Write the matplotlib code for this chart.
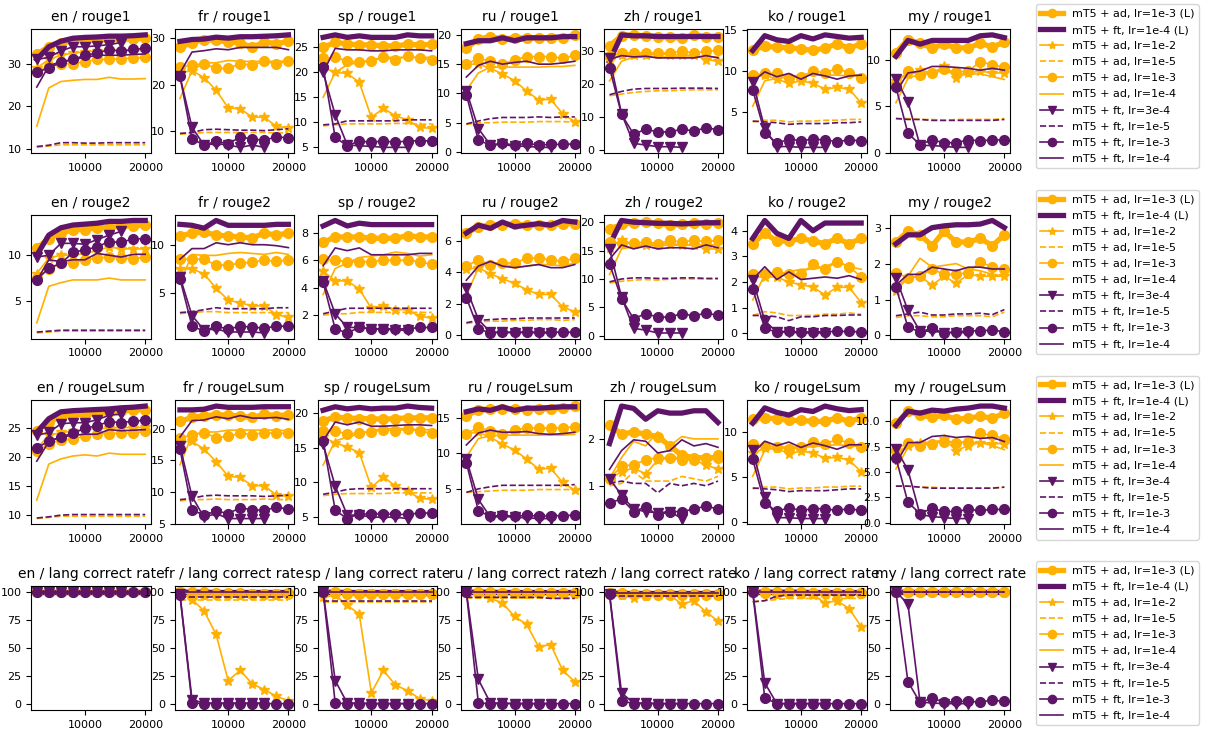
import numpy as np
import matplotlib.pyplot as plt

steps = [2000, 4000, 6000, 8000, 10000, 12000, 14000, 16000, 18000, 20000]
langs = ["en", "fr", "sp", "ru", "zh", "ko", "my"]
metrics = ["rouge1", "rouge2", "rougeLsum", "lang correct rate"]
labels = ["mT5 + ad, lr=1e-3 (L)", "mT5 + ft, lr=1e-4 (L)", "mT5 + ad, lr=1e-2",
          "mT5 + ad, lr=1e-5", "mT5 + ad, lr=1e-3", "mT5 + ad, lr=1e-4",
          "mT5 + ft, lr=3e-4", "mT5 + ft, lr=1e-5", "mT5 + ft, lr=1e-3",
          "mT5 + ft, lr=1e-4"]

# each panel: one list per label above (same order)
en_rouge1 = [
    [32.3, 34.0, 35.0, 35.3, 35.5, 35.5, 35.7, 35.8, 35.8, 36.0],
    [31.0, 34.0, 35.3, 36.0, 36.2, 36.3, 36.5, 36.5, 36.6, 36.8],
    [29.0, 31.0, 32.0, 32.5, 32.8, 33.0, 33.2, 33.0, 33.0, 33.2],
    [10.3, 10.6, 10.9, 10.9, 10.9, 10.9, 10.9, 10.9, 10.9, 10.9],
    [28.0, 29.5, 30.0, 30.0, 30.5, 31.0, 31.0, 31.2, 31.3, 31.5],
    [15.3, 24.3, 25.8, 26.1, 26.3, 26.3, 26.8, 26.4, 26.4, 26.5],
    [31.0, 31.5, 33.0, 34.0, 34.0, 34.2, 34.5, 35.0],
    [10.5, 10.8, 11.4, 11.4, 11.3, 11.3, 11.4, 11.4, 11.4, 11.4],
    [28.0, 29.0, 30.3, 31.0, 32.0, 32.5, 33.3, 33.0, 33.4, 33.6],
    [24.5, 29.5, 30.5, 31.0, 31.5, 32.0, 32.0, 32.0, 32.2, 32.3],
]
fr_rouge1 = [
    [28.0, 29.0, 29.7, 29.5, 29.2, 29.0, 28.0, 29.2, 28.8, 29.3],
    [29.3, 29.7, 29.8, 30.2, 30.0, 30.3, 30.3, 30.4, 30.5, 30.7],
    [22.5, 23.0, 21.5, 18.8, 15.0, 14.8, 13.0, 13.0, 11.0, 10.7],
    [9.3, 9.5, 9.7, 9.7, 9.7, 9.7, 9.7, 9.7, 9.6, 9.6],
    [23.8, 24.2, 24.5, 23.5, 23.5, 24.5, 24.2, 25.0, 24.5, 25.0],
    [17.0, 23.0, 24.7, 24.7, 25.2, 25.0, 25.0, 25.0, 25.0, 25.1],
    [21.8, 10.8, 7.0, 7.3, 7.0, 6.5, 7.0, 6.5],
    [9.5, 9.7, 10.3, 10.4, 10.3, 10.2, 10.2, 10.1, 10.3, 10.5],
    [21.8, 8.3, 7.0, 7.8, 7.3, 8.7, 8.3, 8.0, 8.8, 8.5],
    [22.5, 27.0, 27.3, 27.7, 27.5, 28.0, 28.0, 28.0, 28.0, 27.5],
]
sp_rouge1 = [
    [25.0, 26.0, 25.7, 25.5, 25.5, 25.3, 25.3, 25.6, 25.5, 25.6],
    [27.0, 27.5, 27.0, 27.3, 27.0, 27.0, 27.0, 27.5, 27.3, 27.3],
    [21.0, 20.0, 19.8, 18.0, 11.0, 12.8, 11.3, 10.5, 9.0, 8.8],
    [9.3, 9.5, 9.7, 9.7, 9.7, 9.7, 9.8, 9.8, 9.6, 9.7],
    [22.8, 23.0, 22.3, 22.0, 22.3, 23.0, 22.5, 23.3, 22.8, 22.5],
    [15.0, 20.0, 21.5, 22.0, 22.5, 23.0, 23.0, 23.0, 23.0, 23.0],
    [20.0, 11.5, 5.5, 5.3, 5.2, 5.0, 5.0, 5.0],
    [9.5, 9.7, 10.3, 10.3, 10.3, 10.3, 10.3, 10.5, 10.5, 10.5],
    [21.0, 7.0, 5.3, 6.3, 6.0, 6.3, 6.0, 6.3, 6.3, 6.3],
    [20.0, 24.8, 24.5, 24.5, 24.3, 24.3, 24.5, 24.5, 24.5, 24.3],
]
ru_rouge1 = [
    [17.7, 19.3, 19.7, 19.3, 19.5, 19.5, 19.5, 19.5, 19.5, 20.0],
    [18.5, 19.0, 19.0, 19.5, 19.0, 19.5, 19.5, 19.5, 19.7, 19.7],
    [15.0, 15.0, 14.3, 13.3, 12.2, 10.4, 8.9, 9.0, 6.5, 5.2],
    [4.7, 5.0, 5.0, 5.1, 5.1, 5.1, 5.2, 5.2, 5.2, 5.1],
    [15.0, 16.0, 15.5, 15.0, 15.7, 16.3, 16.3, 16.3, 16.0, 16.5],
    [10.5, 13.5, 14.5, 14.5, 14.5, 14.5, 14.5, 14.6, 14.6, 14.8],
    [10.5, 4.0, 1.2, 1.3, 1.0, 1.0, 0.8, 0.8],
    [4.8, 5.3, 5.7, 5.9, 5.9, 5.9, 6.0, 5.9, 6.0, 6.0],
    [9.8, 2.0, 1.2, 1.5, 1.2, 1.5, 1.2, 1.3, 1.3, 1.4],
    [12.8, 14.8, 15.5, 15.0, 15.3, 15.5, 15.0, 15.0, 15.2, 15.5],
]
zh_rouge1 = [
    [31.7, 34.7, 35.0, 34.7, 34.5, 34.3, 34.0, 35.0, 34.5, 34.5],
    [27.0, 35.0, 34.7, 34.7, 34.5, 34.5, 34.5, 34.5, 34.5, 34.5],
    [27.5, 29.0, 29.0, 28.8, 29.2, 29.0, 28.8, 28.8, 27.5, 27.0],
    [16.5, 17.0, 17.5, 17.8, 18.0, 18.0, 18.2, 18.3, 18.3, 18.3],
    [28.5, 29.5, 29.5, 29.5, 29.5, 29.5, 30.0, 29.5, 30.0, 30.3],
    [21.0, 27.0, 28.2, 28.2, 28.2, 28.3, 28.3, 28.2, 28.3, 28.3],
    [27.9, 11.0, 2.0, 1.5, 1.0, 1.0, 0.8],
    [16.8, 17.8, 18.5, 18.7, 18.7, 18.7, 18.8, 18.8, 18.8, 18.7],
    [25.0, 10.8, 4.8, 6.3, 5.5, 5.5, 6.3, 5.8, 6.7, 6.2],
    [27.5, 28.7, 28.3, 28.5, 28.0, 28.0, 28.0, 28.0, 28.7, 28.0],
]
ko_rouge1 = [
    [12.6, 13.0, 12.9, 12.8, 12.7, 12.5, 12.8, 13.3, 12.8, 13.3],
    [12.5, 14.3, 13.8, 13.6, 14.3, 13.9, 14.4, 14.2, 14.0, 14.1],
    [9.3, 9.5, 9.0, 8.5, 8.8, 8.5, 7.8, 8.0, 7.8, 6.1],
    [3.8, 4.0, 4.0, 3.8, 3.9, 3.9, 4.0, 4.0, 4.1, 4.1],
    [9.5, 9.7, 9.7, 9.2, 9.3, 10.0, 9.8, 10.3, 9.8, 9.2],
    [5.7, 8.8, 9.1, 9.3, 9.5, 9.5, 9.5, 9.5, 9.4, 9.5],
    [8.7, 3.0, 0.8, 0.8, 0.7, 0.7, 0.7],
    [3.9, 3.8, 3.7, 3.5, 3.6, 3.6, 3.6, 3.7, 3.7, 3.8],
    [7.7, 2.5, 1.2, 1.7, 1.5, 1.7, 1.6, 1.4, 1.6, 1.5],
    [8.7, 9.9, 9.3, 9.7, 9.0, 9.7, 9.4, 9.0, 9.4, 9.5],
]
my_rouge1 = [
    [10.8, 12.2, 11.8, 11.3, 11.7, 11.3, 11.3, 11.8, 11.4, 11.9],
    [10.4, 12.1, 11.7, 12.1, 12.1, 12.1, 12.1, 12.6, 12.7, 12.4],
    [7.7, 8.5, 8.9, 8.6, 9.3, 8.1, 8.6, 8.8, 8.6, 8.6],
    [3.7, 3.7, 3.6, 3.6, 3.5, 3.6, 3.6, 3.6, 3.6, 3.7],
    [7.5, 8.8, 8.4, 8.6, 9.0, 8.7, 8.8, 9.8, 9.5, 9.2],
    [5.4, 8.0, 8.5, 8.7, 8.8, 8.5, 8.5, 8.5, 8.2, 7.9],
    [8.0, 5.5, 0.8, 0.8, 0.7, 0.6, 0.6],
    [3.7, 3.6, 3.6, 3.5, 3.5, 3.5, 3.5, 3.5, 3.5, 3.6],
    [7.1, 2.1, 0.9, 1.4, 1.1, 1.1, 1.4, 1.3, 1.4, 1.4],
    [6.5, 8.6, 8.8, 9.3, 9.3, 9.2, 9.1, 8.9, 9.1, 8.9],
]

en_rouge2 = [
    [10.8, 11.8, 12.4, 12.8, 12.8, 13.0, 13.0, 13.2, 13.2, 13.3],
    [10.0, 12.2, 13.0, 13.3, 13.4, 13.5, 13.7, 13.7, 13.8, 13.8],
    [8.0, 9.7, 10.0, 10.0, 10.2, 10.5, 10.9, 10.7, 10.7, 10.7],
    [1.5, 1.6, 1.7, 1.7, 1.7, 1.7, 1.7, 1.7, 1.7, 1.7],
    [7.5, 8.5, 9.1, 9.2, 9.5, 9.7, 9.8, 9.7, 9.6, 9.8],
    [2.6, 6.6, 7.0, 7.3, 7.3, 7.3, 7.5, 7.3, 7.3, 7.3],
    [9.8, 10.0, 11.3, 11.3, 11.2, 11.7, 12.2, 12.6],
    [1.6, 1.7, 1.8, 1.8, 1.8, 1.8, 1.8, 1.8, 1.8, 1.8],
    [7.3, 8.6, 9.1, 10.3, 10.6, 10.9, 11.5, 11.4, 11.8, 11.8],
    [7.2, 9.5, 9.3, 9.5, 9.5, 10.2, 10.0, 9.8, 10.1, 10.1],
]
fr_rouge2 = [
    [10.9, 11.2, 11.3, 11.0, 10.9, 10.8, 10.7, 11.2, 11.0, 11.2],
    [12.1, 12.0, 11.7, 12.5, 12.0, 12.0, 12.0, 12.0, 12.1, 12.1],
    [7.5, 7.5, 7.0, 5.5, 4.3, 4.0, 3.7, 3.7, 2.8, 2.5],
    [2.9, 3.0, 3.1, 3.1, 3.0, 3.0, 3.0, 3.0, 3.0, 3.0],
    [8.5, 8.5, 8.5, 7.9, 7.9, 8.1, 8.2, 8.4, 8.3, 8.4],
    [6.0, 9.0, 8.9, 8.9, 9.1, 9.2, 9.1, 9.0, 9.2, 9.0],
    [6.7, 2.7, 1.2, 1.3, 1.0, 1.0, 1.0, 0.9],
    [3.0, 3.1, 3.3, 3.5, 3.4, 3.4, 3.4, 3.4, 3.5, 3.5],
    [6.5, 1.6, 1.1, 1.6, 1.3, 1.6, 1.5, 1.4, 1.6, 1.6],
    [8.5, 9.6, 9.6, 10.2, 10.0, 10.2, 10.0, 10.0, 9.9, 9.7],
]
sp_rouge2 = [
    [7.3, 7.7, 7.7, 7.7, 7.6, 7.6, 7.6, 7.8, 7.7, 7.7],
    [8.5, 8.9, 8.5, 8.7, 8.6, 8.6, 8.6, 8.6, 8.6, 8.6],
    [5.2, 4.5, 4.5, 3.9, 2.5, 2.7, 2.4, 2.4, 1.9, 1.8],
    [2.0, 2.1, 2.1, 2.2, 2.2, 2.2, 2.2, 2.2, 2.2, 2.2],
    [6.1, 6.0, 5.9, 5.9, 5.9, 6.0, 6.0, 6.0, 5.9, 5.7],
    [3.5, 5.4, 5.8, 6.2, 6.3, 6.4, 6.6, 6.5, 6.3, 6.4],
    [4.5, 2.1, 1.1, 1.1, 1.0, 1.0, 0.9, 0.9],
    [2.1, 2.3, 2.5, 2.5, 2.5, 2.5, 2.5, 2.5, 2.5, 2.5],
    [4.4, 1.0, 0.7, 1.1, 1.0, 1.0, 1.0, 1.0, 1.1, 1.1],
    [5.6, 6.9, 6.7, 6.9, 6.4, 6.4, 6.4, 6.4, 6.5, 6.5],
]
ru_rouge2 = [
    [6.5, 6.9, 7.0, 7.0, 7.1, 7.0, 7.0, 7.0, 7.1, 7.1],
    [6.5, 7.0, 6.8, 7.2, 6.9, 7.0, 7.1, 7.0, 7.3, 7.2],
    [4.2, 4.3, 3.9, 3.6, 3.3, 2.9, 2.6, 2.6, 1.8, 1.5],
    [0.75, 0.85, 0.9, 0.9, 0.95, 0.95, 1.0, 1.0, 0.95, 1.0],
    [4.4, 4.8, 4.5, 4.6, 4.6, 4.9, 4.9, 4.8, 4.7, 4.9],
    [2.5, 4.3, 4.6, 4.6, 4.3, 4.4, 4.5, 4.5, 4.4, 4.6],
    [3.0, 1.0, 0.2, 0.2, 0.15, 0.2, 0.15, 0.15],
    [0.8, 0.95, 1.0, 1.05, 1.05, 1.1, 1.1, 1.1, 1.1, 1.1],
    [2.4, 0.4, 0.15, 0.2, 0.2, 0.2, 0.2, 0.2, 0.2, 0.2],
    [3.5, 4.4, 4.7, 4.4, 4.3, 4.4, 4.5, 4.3, 4.3, 4.5],
]
zh_rouge2 = [
    [18.8, 19.6, 19.9, 20.0, 19.8, 19.5, 19.6, 19.8, 19.7, 19.9],
    [16.0, 20.3, 20.0, 19.9, 19.8, 19.8, 19.7, 19.8, 19.9, 19.9],
    [15.5, 16.9, 16.1, 15.9, 16.2, 16.2, 16.0, 16.0, 15.3, 15.3],
    [9.3, 9.6, 9.8, 9.9, 9.8, 10.0, 10.0, 10.0, 10.0, 10.0],
    [16.5, 16.3, 16.3, 16.5, 16.2, 16.8, 16.5, 16.8, 16.6, 16.8],
    [10.8, 15.3, 15.7, 15.8, 16.0, 15.9, 16.0, 16.0, 16.0, 16.0],
    [15.3, 6.8, 1.3, 1.0, 0.5, 0.5, 0.5],
    [9.5, 10.0, 10.2, 10.2, 10.1, 10.1, 10.2, 10.2, 10.1, 10.1],
    [12.7, 6.5, 3.0, 3.9, 3.3, 3.3, 3.9, 3.5, 4.0, 3.6],
    [13.5, 16.0, 15.3, 15.8, 15.3, 15.5, 15.5, 15.3, 16.0, 15.5],
]
ko_rouge2 = [
    [3.5, 3.9, 3.6, 3.6, 3.7, 3.6, 3.5, 3.7, 3.5, 3.7],
    [3.7, 4.4, 3.9, 3.7, 4.4, 4.0, 4.3, 4.3, 4.3, 4.3],
    [2.2, 2.2, 2.2, 2.0, 1.9, 1.8, 1.5, 1.8, 1.8, 1.2],
    [0.7, 0.85, 0.8, 0.7, 0.7, 0.7, 0.75, 0.75, 0.8, 0.75],
    [2.3, 2.3, 2.4, 2.3, 2.3, 2.7, 2.5, 2.8, 2.6, 2.2],
    [1.3, 2.3, 2.3, 2.4, 2.5, 2.5, 2.6, 2.8, 2.6, 2.5],
    [2.1, 0.5, 0.05, 0.05, 0.02, 0.02, 0.02],
    [0.7, 0.7, 0.65, 0.5, 0.65, 0.65, 0.7, 0.7, 0.72, 0.72],
    [1.75, 0.2, 0.05, 0.1, 0.05, 0.07, 0.07, 0.08, 0.08, 0.06],
    [2.1, 2.6, 2.1, 2.4, 2.1, 2.15, 2.2, 2.15, 2.25, 2.1],
]
my_rouge2 = [
    [2.6, 2.9, 2.8, 2.5, 2.9, 2.6, 2.6, 2.7, 2.5, 2.8],
    [2.55, 2.8, 2.8, 3.0, 3.05, 3.08, 3.08, 3.1, 3.2, 3.0],
    [1.25, 1.6, 1.65, 1.4, 1.65, 1.45, 1.7, 1.65, 1.65, 1.65],
    [0.5, 0.55, 0.55, 0.52, 0.52, 0.55, 0.55, 0.55, 0.52, 0.65],
    [1.75, 1.6, 1.65, 1.85, 1.7, 1.7, 1.75, 2.05, 1.9, 1.85],
    [1.3, 1.65, 2.15, 1.9, 1.95, 2.0, 1.85, 1.8, 1.7, 1.65],
    [1.6, 0.7, 0.12, 0.12, 0.08, 0.08, 0.08],
    [0.55, 0.6, 0.65, 0.57, 0.57, 0.6, 0.6, 0.62, 0.58, 0.72],
    [1.35, 0.23, 0.1, 0.2, 0.07, 0.1, 0.13, 0.13, 0.15, 0.1],
    [1.4, 1.7, 1.7, 1.9, 1.85, 1.8, 1.9, 1.9, 1.85, 1.85],
]

en_rougeL = [
    [24.6, 26.2, 27.0, 27.3, 27.4, 27.6, 27.8, 28.0, 28.2, 28.3],
    [24.3, 26.7, 27.9, 28.1, 28.2, 28.3, 28.4, 28.6, 28.7, 28.9],
    [21.5, 23.8, 24.3, 24.5, 24.8, 25.0, 25.0, 25.2, 25.1, 25.2],
    [9.3, 9.5, 9.7, 9.7, 9.7, 9.7, 9.7, 9.7, 9.7, 9.7],
    [21.0, 22.3, 23.0, 23.1, 23.7, 24.1, 24.1, 24.2, 24.2, 24.5],
    [12.5, 18.8, 19.7, 20.2, 20.4, 20.2, 20.7, 20.5, 20.5, 20.5],
    [23.8, 24.3, 25.8, 26.0, 26.0, 26.5, 27.3, 27.5],
    [9.4, 9.6, 9.9, 10.0, 10.0, 10.0, 10.0, 10.0, 10.0, 10.0],
    [21.6, 22.8, 23.5, 24.2, 25.0, 25.5, 26.2, 26.0, 26.3, 26.4],
    [19.3, 22.7, 23.5, 23.8, 24.0, 24.0, 24.8, 24.6, 24.7, 24.8],
]
fr_rougeL = [
    [21.2, 21.8, 22.1, 22.2, 22.2, 22.0, 21.8, 22.3, 22.1, 22.2],
    [23.0, 23.0, 23.1, 23.6, 23.4, 23.4, 23.4, 23.5, 23.5, 23.5],
    [18.0, 18.0, 16.8, 14.8, 12.5, 12.3, 11.0, 11.0, 9.5, 9.3],
    [8.6, 8.8, 8.8, 8.9, 8.8, 8.8, 8.8, 8.9, 8.8, 8.8],
    [18.5, 19.1, 19.4, 18.6, 18.8, 19.3, 19.1, 19.4, 19.3, 19.3],
    [14.3, 19.0, 19.5, 19.5, 19.8, 19.8, 19.8, 19.8, 19.8, 19.7],
    [17.3, 9.3, 6.0, 6.6, 5.8, 5.8, 5.8, 5.8],
    [8.8, 9.0, 9.4, 9.5, 9.4, 9.4, 9.4, 9.3, 9.4, 9.5],
    [16.8, 7.2, 6.3, 7.0, 6.6, 7.5, 7.2, 7.1, 7.6, 7.3],
    [18.7, 21.3, 21.4, 21.9, 21.6, 22.1, 21.7, 21.7, 21.8, 21.5],
]
sp_rougeL = [
    [18.9, 19.4, 19.3, 19.2, 19.2, 19.1, 19.2, 19.3, 19.3, 19.3],
    [20.4, 20.9, 20.6, 20.8, 20.6, 20.7, 20.7, 21.0, 20.8, 20.7],
    [16.5, 15.7, 15.1, 14.3, 9.3, 10.8, 9.5, 8.8, 7.7, 7.6],
    [8.1, 8.3, 8.4, 8.4, 8.4, 8.4, 8.5, 8.5, 8.5, 8.5],
    [17.4, 17.4, 17.0, 17.1, 17.3, 17.6, 17.4, 17.7, 17.4, 17.1],
    [12.5, 16.0, 16.5, 17.0, 17.5, 17.7, 17.8, 17.7, 17.6, 17.6],
    [15.5, 9.5, 5.3, 5.3, 5.0, 5.0, 5.0, 4.8],
    [8.3, 8.6, 9.0, 9.1, 9.1, 9.1, 9.1, 9.1, 9.1, 9.1],
    [16.0, 6.0, 4.8, 5.5, 5.4, 5.5, 5.4, 5.4, 5.6, 5.6],
    [16.0, 18.7, 18.3, 18.7, 18.1, 18.1, 18.2, 18.3, 18.3, 18.2],
]
ru_rougeL = [
    [15.3, 16.2, 16.3, 16.3, 16.3, 16.2, 16.3, 16.3, 16.4, 16.7],
    [15.9, 16.3, 16.1, 16.6, 16.1, 16.4, 16.4, 16.5, 16.6, 16.6],
    [12.8, 13.0, 12.3, 11.3, 10.5, 9.2, 7.8, 7.9, 5.9, 4.8],
    [4.5, 4.6, 4.7, 4.8, 4.8, 4.8, 4.9, 4.9, 4.9, 4.9],
    [12.8, 13.7, 13.2, 12.8, 13.3, 13.6, 13.6, 13.6, 13.6, 13.8],
    [9.5, 12.1, 12.5, 12.6, 12.6, 12.6, 12.6, 12.6, 12.6, 12.7],
    [9.2, 3.5, 1.0, 1.1, 1.0, 0.9, 0.8, 0.8],
    [4.5, 5.0, 5.3, 5.5, 5.5, 5.5, 5.5, 5.5, 5.5, 5.6],
    [8.7, 1.9, 1.1, 1.3, 1.1, 1.3, 1.1, 1.2, 1.2, 1.3],
    [11.2, 12.9, 13.3, 13.0, 13.0, 13.1, 12.8, 12.7, 12.8, 13.0],
]
zh_rougeL = [
    [2.3, 2.1, 2.15, 2.1, 2.05, 1.85, 1.65, 1.6, 1.6, 1.6],
    [1.9, 2.7, 2.65, 2.42, 2.6, 2.55, 2.55, 2.6, 2.6, 2.35],
    [1.15, 1.3, 1.38, 1.25, 1.55, 1.6, 1.6, 1.55, 1.45, 1.35],
    [1.0, 1.05, 1.3, 1.1, 1.1, 1.1, 1.2, 1.15, 1.1, 1.2],
    [1.15, 1.42, 1.45, 1.55, 1.6, 1.6, 1.55, 1.55, 1.6, 1.65],
    [1.15, 1.6, 1.95, 1.85, 2.15, 1.85, 2.05, 2.0, 2.0, 2.0],
    [1.15, 0.8, 0.5, 0.45, 0.42, 0.45, 0.3],
    [1.05, 1.1, 1.05, 1.05, 0.85, 1.05, 1.0, 1.05, 1.0, 1.1],
    [0.63, 0.72, 0.45, 0.55, 0.37, 0.45, 0.45, 0.5, 0.57, 0.5],
    [1.35, 1.75, 1.98, 1.95, 1.7, 1.75, 1.98, 1.85, 1.9, 1.82],
]
ko_rougeL = [
    [11.5, 11.6, 11.5, 11.3, 11.3, 11.2, 11.2, 11.6, 11.2, 11.6],
    [11.0, 12.7, 12.2, 11.9, 12.5, 12.3, 12.9, 12.6, 12.4, 12.5],
    [7.7, 8.2, 8.2, 7.6, 7.9, 7.7, 7.1, 7.2, 6.9, 5.6],
    [3.7, 3.9, 3.9, 3.7, 3.8, 3.8, 3.9, 3.9, 4.0, 4.0],
    [8.7, 8.5, 8.4, 8.1, 8.3, 8.9, 8.7, 9.2, 8.8, 8.3],
    [5.1, 8.0, 8.3, 8.4, 8.3, 8.4, 8.5, 8.6, 8.5, 8.4],
    [8.0, 2.8, 0.5, 0.5, 0.4, 0.4, 0.4],
    [3.8, 3.7, 3.6, 3.4, 3.5, 3.5, 3.5, 3.6, 3.7, 3.7],
    [7.0, 2.1, 1.2, 1.6, 1.3, 1.5, 1.5, 1.3, 1.5, 1.3],
    [7.6, 9.0, 8.5, 8.9, 8.3, 8.8, 8.5, 8.1, 8.6, 8.6],
]
my_rougeL = [
    [9.8, 11.0, 10.6, 10.4, 10.6, 10.2, 10.3, 10.5, 10.3, 10.8],
    [9.6, 11.0, 10.8, 11.1, 11.0, 11.2, 11.3, 11.5, 11.5, 11.3],
    [6.8, 7.6, 7.9, 7.7, 8.3, 7.1, 7.6, 7.9, 7.8, 7.8],
    [3.6, 3.6, 3.5, 3.5, 3.4, 3.4, 3.4, 3.4, 3.4, 3.5],
    [7.2, 7.9, 7.6, 7.8, 8.0, 7.9, 8.0, 8.8, 8.6, 8.3],
    [5.3, 7.4, 7.8, 8.0, 8.1, 7.9, 7.9, 7.9, 7.6, 7.2],
    [7.3, 5.2, 0.8, 0.6, 0.5, 0.4, 0.4],
    [3.6, 3.6, 3.5, 3.4, 3.4, 3.4, 3.4, 3.4, 3.4, 3.5],
    [6.4, 2.0, 0.9, 1.4, 1.1, 1.1, 1.3, 1.2, 1.3, 1.3],
    [5.8, 7.9, 7.9, 8.5, 8.6, 8.4, 8.5, 8.3, 8.4, 8.0],
]

en_lang = [
    [100, 100, 100, 100, 100, 100, 100, 100, 100, 100],
    [100, 100, 100, 100, 100, 100, 100, 100, 100, 100],
    [100, 100, 100, 100, 100, 100, 100, 100, 100, 100],
    [99.5, 99.5, 99.5, 99.5, 99.5, 99.5, 99.5, 99.5, 99.5, 99.5],
    [100, 100, 100, 100, 100, 100, 100, 100, 100, 100],
    [100, 100, 100, 100, 100, 100, 100, 100, 100, 100],
    [100, 100, 100, 100, 100, 100, 100, 100],
    [99.5, 99.5, 99.5, 99.5, 99.5, 99.5, 99.5, 99.5, 99.5, 99.5],
    [100, 100, 100, 100, 100, 100, 100, 100, 100, 100],
    [100, 100, 100, 100, 100, 100, 100, 100, 100, 100],
]
fr_lang = [
    [100, 100, 100, 99, 99, 99, 98, 98, 98, 99],
    [99.5, 99.5, 99.5, 99.5, 99.5, 99.5, 99.5, 99.5, 99.5, 99.5],
    [100, 93, 83, 62, 21, 30, 18, 13, 7, 3],
    [93, 93, 93, 93, 93, 93, 93, 93, 93, 93],
    [100, 98, 98, 98, 98, 98, 98, 98, 98, 98],
    [99, 99, 99, 99, 99, 99, 99, 99, 99, 99],
    [98, 4, 1, 1, 1, 1, 1, 1],
    [95, 95, 95, 95, 95, 95, 95, 95, 95, 95],
    [97, 1, 0.5, 0.5, 0.5, 0.5, 0.5, 0.5, 0.5, 0.5],
    [99.5, 99.5, 99.5, 99.5, 99.5, 99.5, 99.5, 99.5, 99.5, 99.5],
]
sp_lang = [
    [100, 100, 99, 98, 98, 98, 98, 98, 98, 98],
    [99.5, 99.5, 99.5, 99.5, 99.5, 99.5, 99.5, 99.5, 99.5, 99.5],
    [95, 97, 88, 80, 10, 30, 17, 12, 5, 3],
    [91, 91, 91, 91, 91, 91, 91, 91, 91, 91],
    [100, 99, 98, 98, 98, 98, 98, 98, 98, 98],
    [99, 99, 99, 99, 99, 99, 99, 99, 99, 99],
    [100, 21, 1, 1, 0.5, 0.5, 0.5, 0.5],
    [92, 92, 92, 92, 92, 92, 92, 92, 92, 92],
    [100, 1, 0.5, 0.5, 0.5, 0.5, 0.5, 0.5, 0.5, 0.5],
    [99.5, 99.5, 99.5, 99.5, 99.5, 99.5, 99.5, 99.5, 99.5, 99.5],
]
ru_lang = [
    [100, 100, 100, 99, 99, 99, 99, 99, 99, 99],
    [99.5, 99.5, 99.5, 99.5, 99.5, 99.5, 99.5, 99.5, 99.5, 99.5],
    [100, 99, 94, 90, 78, 71, 51, 53, 30, 20],
    [94, 94, 94, 94, 94, 94, 94, 94, 94, 94],
    [100, 99, 99, 99, 99, 99, 99, 99, 99, 99],
    [99, 99, 99, 99, 99, 99, 99, 99, 99, 99],
    [100, 22, 1, 1, 0.5, 0.5, 0.5, 0.5],
    [95, 95, 95, 95, 95, 95, 95, 94, 94, 94],
    [100, 1, 0.5, 0.5, 0.5, 0.5, 0.5, 0.5, 0.5, 0.5],
    [99.5, 99.5, 99.5, 99.5, 99.5, 99.5, 99.5, 99.5, 99.5, 99.5],
]
zh_lang = [
    [99, 99, 98, 98, 98, 98, 98, 98, 98, 98],
    [99, 99, 99, 99, 99, 99, 99, 99, 99, 99],
    [98, 97, 94, 96, 97, 97, 89, 92, 82, 74],
    [96, 97, 97, 97, 97, 97, 97, 97, 97, 97],
    [98, 98, 98, 97, 97, 97, 97, 97, 97, 97],
    [99, 99, 99, 99, 99, 99, 99, 99, 99, 99],
    [98, 10, 1, 1, 0.5, 0.5, 0.5],
    [96.5, 96.5, 96.5, 96.5, 96.5, 96.5, 96.5, 96.5, 96.5, 96.5],
    [98, 3, 0.5, 0.5, 0.5, 0.5, 0.5, 0.5, 0.5, 0.5],
    [99, 99, 99, 99, 99, 99, 99, 99, 99, 99],
]
ko_lang = [
    [100, 100, 100, 100, 100, 99, 99, 99, 99, 99],
    [99.5, 99.5, 99.5, 99.5, 99.5, 99.5, 99.5, 99.5, 99.5, 99.5],
    [100, 99, 98, 98, 98, 97, 90, 92, 85, 69],
    [91, 92, 93, 94, 94, 94, 94, 94, 94, 94],
    [100, 99, 99, 99, 99, 99, 99, 99, 99, 99],
    [99, 99, 99, 99, 99, 99, 99, 99, 99, 99],
    [100, 19, 0.5, 0.5, 0.5, 0.5, 0.5],
    [91, 92, 96, 97, 97, 97, 97, 97, 97, 97],
    [100, 5.5, 0.5, 0.5, 0.5, 0.5, 0.5, 0.5, 0.5, 0.5],
    [99.5, 99.5, 99.5, 99.5, 99.5, 99.5, 99.5, 99.5, 99.5, 99.5],
]
my_lang = [
    [100, 99.5, 99.5, 99.5, 99.5, 99.5, 99.5, 99.5, 99.5, 99.5],
    [100, 100, 100, 100, 100, 100, 100, 100, 100, 100],
    [100, 100, 100, 100, 100, 100, 100, 100, 100, 100],
    [99.5, 99.5, 99.5, 99.5, 99.5, 99.5, 99.5, 99.5, 99.5, 99.5],
    [100, 99.5, 99.5, 99.5, 99.5, 99.5, 99.5, 99.5, 99.5, 99.5],
    [100, 100, 100, 100, 100, 100, 100, 100, 100, 100],
    [100, 89, 2, 1, 0.5, 0.5, 0.5],
    [100, 100, 100, 100, 100, 100, 100, 100, 100, 100],
    [100, 20, 1.5, 5.5, 1.5, 2.5, 2.5, 2, 3.5, 2.5],
    [100, 100, 100, 100, 100, 100, 100, 100, 100, 100],
]

panels = [
    [en_rouge1, fr_rouge1, sp_rouge1, ru_rouge1, zh_rouge1, ko_rouge1, my_rouge1],
    [en_rouge2, fr_rouge2, sp_rouge2, ru_rouge2, zh_rouge2, ko_rouge2, my_rouge2],
    [en_rougeL, fr_rougeL, sp_rougeL, ru_rougeL, zh_rougeL, ko_rougeL, my_rougeL],
    [en_lang, fr_lang, sp_lang, ru_lang, zh_lang, ko_lang, my_lang],
]

ORANGE = "#FFB000"
PURPLE = "#5E1568"
# (color, linestyle, marker, linewidth)
styles = [
    (ORANGE, "-", "o", 3.8),
    (PURPLE, "-", None, 3.8),
    (ORANGE, "-", "*", 1.2),
    (ORANGE, "--", None, 1.2),
    (ORANGE, "-", "o", 1.2),
    (ORANGE, "-", None, 1.2),
    (PURPLE, "-", "v", 1.2),
    (PURPLE, "--", None, 1.2),
    (PURPLE, "-", "o", 1.2),
    (PURPLE, "-", None, 1.2),
]

fig, axes = plt.subplots(4, 7, figsize=(12.05, 7.31), dpi=100)
fig.subplots_adjust(left=0.026, right=0.838, top=0.96, bottom=0.029,
                    wspace=0.2, hspace=0.5)

for r, metric in enumerate(metrics):
    for c, lang in enumerate(langs):
        ax = axes[r, c]
        for k, series in enumerate(panels[r][c]):
            color, ls, mk, lw = styles[k]
            ax.plot(steps[:len(series)], series, color=color, linestyle=ls,
                    marker=mk, linewidth=lw, markersize=7, label=labels[k])
        ax.set_title(f"{lang} / {metric}", fontsize=10)
        ax.set_xticks([10000, 20000])
        ax.tick_params(labelsize=8)
        if metric == "lang correct rate":
            ax.set_ylim(-5, 105)
            ax.set_yticks([0, 25, 50, 75, 100])
    axes[r, -1].legend(loc="upper left", bbox_to_anchor=(1.22, 1.2),
                       borderaxespad=0, fontsize=8, labelspacing=0.55,
                       markerscale=0.85)

fig.savefig("out.png")
